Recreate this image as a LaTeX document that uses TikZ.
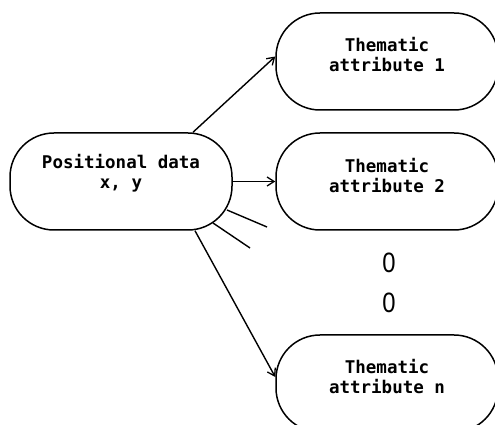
\documentclass[tikz,border=0pt]{standalone}
\usepackage{fontspec}
\setmonofont{DejaVu Sans Mono}
\newfontfamily\zerofont{Liberation Sans}
\usetikzlibrary{arrows.meta,calc}
\tikzset{
  box/.style={draw, line width=1.5pt, rounded corners=44pt, minimum width=222pt, minimum height=97pt, inner sep=0pt},
  lbl/.style={font=\ttfamily\bfseries\fontsize{17.5}{20}\selectfont, align=center, inner sep=0pt},
  conn/.style={line width=1.4pt, -{Straight Barb[length=7pt,width=9pt,line width=1.3pt]}},
  plain/.style={line width=1.4pt},
  dots/.style={font=\zerofont\fontsize{28}{28}\selectfont, inner sep=0pt, xscale=0.85}
}
\begin{document}
\begin{tikzpicture}[x=1pt,y=1pt]
\useasboundingbox (0,0) rectangle (495,425);
\clip (0,0) rectangle (495,425);
\node[box] (p) at (121,243.5) {};
\node[lbl] (pt) at (121,252) {Positional data\\x, y};
\node[box] (t1) at (387,363.5) {};
\node[lbl] (t1t) at (387,370) {Thematic\\attribute 1};
\node[box] (t2) at (387,243.5) {};
\node[lbl] (t2t) at (387,249) {Thematic\\attribute 2};
\node[box] (tn) at (387,41.5) {};
\node[lbl] (tnt) at (387,48) {Thematic\\attribute n};
\node[dots] (o1) at (389,162) {0};
\node[dots] (o2) at (389,122) {0};
\coordinate (s1) at (267,198);
\coordinate (s2) at (250,177);
\draw[conn] ($(p.north)+(72,0)$) -- ($(t1.west)+(0,5)$);
\draw[conn] (p.east) -- (t2.west);
\draw[conn] ($(p.south)+(74,0)$) -- ($(tn.west)+(0,6.5)$);
\draw[plain] (227,215) -- (s1);
\draw[plain] (213,202) -- (s2);
\end{tikzpicture}
\end{document}
